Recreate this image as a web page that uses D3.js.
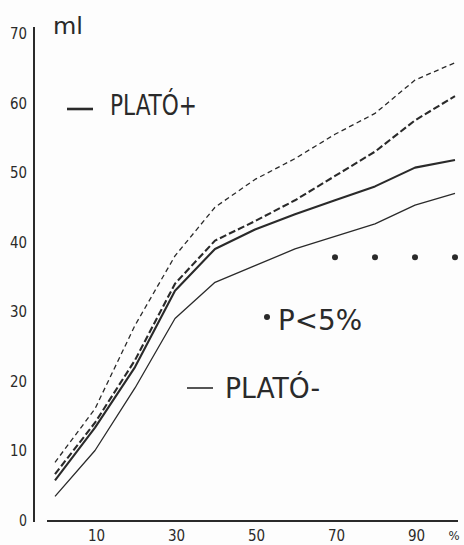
<!DOCTYPE html>
<html>
<head>
<meta charset="utf-8">
<script src="https://cdn.jsdelivr.net/npm/d3@7"></script>
<style>
  html, body { margin: 0; padding: 0; background: #fdfdfd; }
  svg { display: block; }
  text { fill: #2a2a2a; }
</style>
</head>
<body>
<svg id="chart" width="464" height="545"></svg>
<script>
// ---- data ----
const xValues = [0, 10, 20, 30, 40, 50, 60, 70, 80, 90, 100];
const platoPlusUpper = [8.3, 16, 28, 38, 45, 49, 52, 55.5, 58.5, 63.3, 65.8];
const platoPlusMean  = [6.6, 14, 23, 34, 40.2, 43, 46, 49.5, 53, 57.5, 61];
const platoMinusMean = [5.7, 13.3, 22, 33, 39, 41.8, 44, 46, 48, 50.7, 51.8];
const platoMinusLower= [3.4, 10, 19, 29, 34.2, 36.6, 39, 40.8, 42.6, 45.3, 47];
const sigX = [70, 80, 90, 100];
const sigY = [37.8, 37.8, 37.8, 37.8];
const yTicks = [0, 10, 20, 30, 40, 50, 60, 70];
const xTicks = [10, 30, 50, 70, 90];
const yUnit = "ml";
const xUnit = "%";
const legendPlus = "PLATÓ+";
const legendMinus = "PLATÓ-";
const sigLabel = "P<5%";

const svg = d3.select("#chart");
const FONT = "'DejaVu Sans Condensed', 'Liberation Sans Narrow', 'DejaVu Sans', sans-serif";
const ink = "#2a2a2a";

const x = d3.scaleLinear().domain([0, 100]).range([55, 455]);
const y = d3.scaleLinear().domain([0, 70]).range([520, 33.5]);

// axes lines
svg.append("line").attr("x1", 34).attr("x2", 34).attr("y1", 27).attr("y2", 522)
  .attr("stroke", ink).attr("stroke-width", 2);
svg.append("line").attr("x1", 47).attr("x2", 458).attr("y1", 521).attr("y2", 521)
  .attr("stroke", ink).attr("stroke-width", 2);

// y axis labels
const yAxis = d3.axisLeft(y).tickValues(yTicks).tickSize(0).tickPadding(0);
const gy = svg.append("g").attr("transform", "translate(27,0)").call(yAxis);
gy.select(".domain").remove();
gy.selectAll("text").attr("font-family", FONT).attr("font-size", 15).attr("fill", ink)
  .attr("dy", "0.36em").attr("x", 0).attr("textLength", d => d === 0 ? 8 : 17).attr("lengthAdjust", "spacingAndGlyphs");

// x axis labels
const xAxis = d3.axisBottom(x).tickValues(xTicks).tickSize(0).tickPadding(0);
const gx = svg.append("g").attr("transform", "translate(1,530)").call(xAxis);
gx.select(".domain").remove();
gx.selectAll("text").attr("font-family", FONT).attr("font-size", 15).attr("fill", ink)
  .attr("dy", "0.71em");

svg.append("text").attr("x", 454).attr("y", 540).attr("text-anchor", "middle")
  .attr("font-family", FONT).attr("font-size", 13).text(xUnit);

svg.append("text").attr("x", 53).attr("y", 34)
  .attr("font-family", FONT).attr("font-size", 23)
  .attr("textLength", 30).attr("lengthAdjust", "spacingAndGlyphs").text(yUnit);

// series lines
const line = d3.line().x((d, i) => x(xValues[i])).y(d => y(d));
const series = [
  { data: platoPlusUpper, w: 1.3, dash: "5,3.5" },
  { data: platoPlusMean, w: 2.1, dash: "7,3" },
  { data: platoMinusMean, w: 2.1, dash: null },
  { data: platoMinusLower, w: 1.3, dash: null }
];
svg.selectAll("path.series").data(series).enter().append("path")
  .attr("class", "series")
  .attr("d", d => line(d.data))
  .attr("fill", "none").attr("stroke", ink)
  .attr("stroke-width", d => d.w)
  .attr("stroke-dasharray", d => d.dash)
  .attr("stroke-linejoin", "round");

// significance dots
svg.selectAll("circle.sig").data(sigX).enter().append("circle")
  .attr("class", "sig")
  .attr("cx", d => x(d)).attr("cy", (d, i) => y(sigY[i])).attr("r", 3)
  .attr("fill", ink);

// legend PLATÓ+
svg.append("line").attr("x1", 67).attr("x2", 93).attr("y1", 109).attr("y2", 109)
  .attr("stroke", ink).attr("stroke-width", 2.6);
svg.append("text").attr("x", 110).attr("y", 115)
  .attr("font-family", FONT).attr("font-size", 28)
  .attr("textLength", 87).attr("lengthAdjust", "spacingAndGlyphs").text(legendPlus);

// legend PLATÓ-
svg.append("line").attr("x1", 187).attr("x2", 213).attr("y1", 388).attr("y2", 388)
  .attr("stroke", ink).attr("stroke-width", 1.6);
svg.append("text").attr("x", 225).attr("y", 398)
  .attr("font-family", FONT).attr("font-size", 28)
  .attr("textLength", 95).attr("lengthAdjust", "spacingAndGlyphs").text(legendMinus);

// significance label
svg.append("circle").attr("cx", 267).attr("cy", 317).attr("r", 3).attr("fill", ink);
svg.append("text").attr("x", 278).attr("y", 330)
  .attr("font-family", FONT).attr("font-size", 28)
  .attr("textLength", 84).attr("lengthAdjust", "spacingAndGlyphs").text(sigLabel);
</script>
</body>
</html>
